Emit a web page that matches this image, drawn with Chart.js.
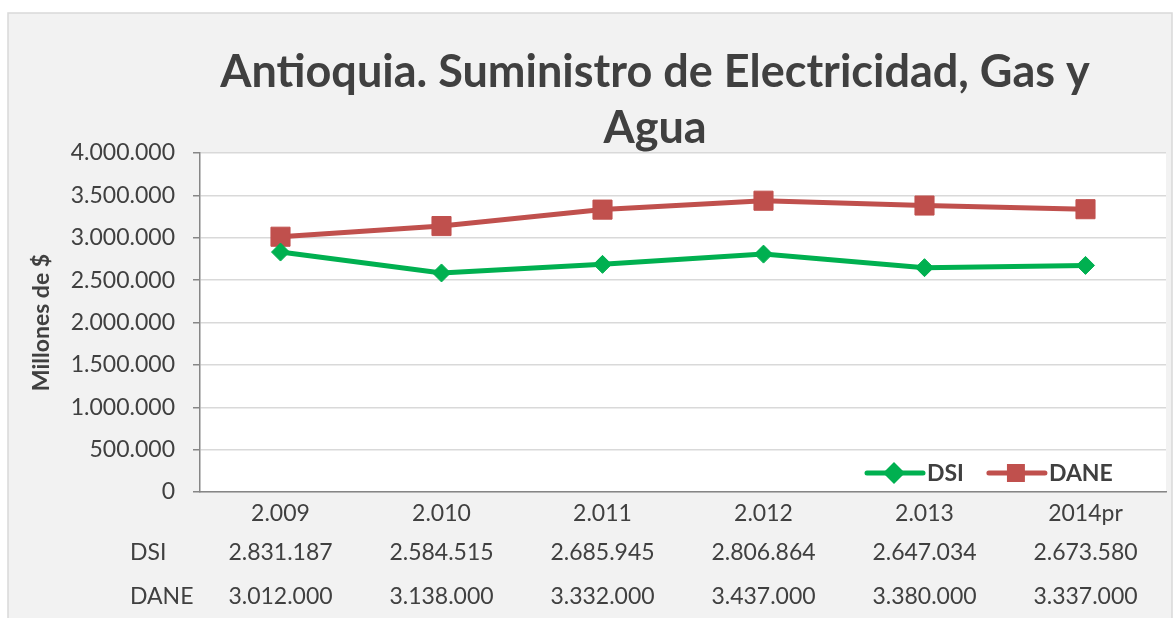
<!DOCTYPE html>
<html>
<head>
<meta charset="utf-8">
<script src="https://cdn.jsdelivr.net/npm/chart.js@4/dist/chart.umd.min.js"></script>
<style>
  body { margin: 0; background: #ffffff; }
  canvas { display: block; }
</style>
</head>
<body>
<canvas id="myChart" width="1174" height="618"></canvas>
<script>
var years = ['2.009', '2.010', '2.011', '2.012', '2.013', '2014pr'];
var dsi = [2831187, 2584515, 2685945, 2806864, 2647034, 2673580];
var dane = [3012000, 3138000, 3332000, 3437000, 3380000, 3337000];
var titleLines = ['Antioquia. Suministro de Electricidad, Gas y', 'Agua'];

var textColor = '#404040';
var fontFamily = 'Lato, "Open Sans", sans-serif';

// 2831187 -> 2.831.187
function fmt(v) {
    return String(v).replace(/\B(?=(\d{3})+(?!\d))/g, '.');
}

// grey frame and white plot area
var background = {
    id: 'background',
    beforeDraw: function(chart) {
        var ctx = chart.ctx, a = chart.chartArea;
        ctx.save();
        ctx.fillStyle = '#ffffff';
        ctx.fillRect(0, 0, chart.width, chart.height);
        ctx.fillStyle = '#f2f2f2';
        ctx.fillRect(8, 13, chart.width - 10, chart.height);
        ctx.strokeStyle = '#d9d9d9';
        ctx.lineWidth = 1.5;
        ctx.strokeRect(8, 13, chart.width - 10, chart.height + 5);
        ctx.fillStyle = '#ffffff';
        ctx.fillRect(a.left, a.top, a.right - a.left, a.bottom - a.top);
        ctx.restore();
    }
};

// title, placed like the Excel one (not centred on the canvas)
var chartTitle = {
    id: 'chartTitle',
    afterDraw: function(chart) {
        var ctx = chart.ctx;
        ctx.save();
        ctx.font = 'bold 45px ' + fontFamily;
        ctx.fillStyle = textColor;
        ctx.textAlign = 'center';
        ctx.textBaseline = 'middle';
        titleLines.forEach(function(line, i) {
            ctx.fillText(line, 655, 72 + i * 56);
        });
        ctx.restore();
    }
};

// legend inside the plot, bottom right
var insideLegend = {
    id: 'insideLegend',
    afterDatasetsDraw: function(chart) {
        var ctx = chart.ctx, a = chart.chartArea;
        var y = a.bottom - 19;
        var x = a.left + 667;
        ctx.save();
        ctx.font = 'bold 23px ' + fontFamily;
        ctx.textBaseline = 'middle';
        ctx.textAlign = 'left';
        var sizes = [{style: 'rectRot', r: 11}, {style: 'rect', r: 12.7}];
        chart.data.datasets.forEach(function(ds, i) {
            ctx.strokeStyle = ds.borderColor;
            ctx.lineWidth = 5;
            ctx.lineCap = 'round';
            ctx.beginPath();
            ctx.moveTo(x, y);
            ctx.lineTo(x + 56, y);
            ctx.stroke();
            ctx.fillStyle = ds.borderColor;
            Chart.helpers.drawPoint(ctx, {pointStyle: sizes[i].style, radius: sizes[i].r, rotation: 0, borderWidth: 0}, x + 27, y);
            ctx.fillStyle = textColor;
            ctx.fillText(ds.label, x + 60, y + 1);
            x += 60 + ctx.measureText(ds.label).width + 25;
        });
        ctx.restore();
    }
};

// data table under the category axis
var dataTable = {
    id: 'dataTable',
    afterDraw: function(chart) {
        var ctx = chart.ctx, xs = chart.scales.x;
        var rows = [{label: 'DSI', values: dsi, y: 553}, {label: 'DANE', values: dane, y: 597}];
        ctx.save();
        ctx.font = '23px ' + fontFamily;
        ctx.fillStyle = textColor;
        ctx.textBaseline = 'middle';
        rows.forEach(function(row) {
            ctx.textAlign = 'left';
            ctx.fillText(row.label, 130, row.y);
            ctx.textAlign = 'center';
            row.values.forEach(function(v, i) {
                ctx.fillText(fmt(v), xs.getPixelForValue(i), row.y);
            });
        });
        ctx.restore();
    }
};

Chart.defaults.font.family = fontFamily;
Chart.defaults.color = textColor;

var ctx = document.getElementById('myChart').getContext('2d');

var chartConfig = {
    type: 'line',
    data: {
        labels: years,
        datasets: [{
            label: 'DSI',
            data: dsi,
            borderColor: '#00b050',
            backgroundColor: '#00b050',
            borderWidth: 5,
            pointStyle: 'rectRot',
            pointRadius: 9,
            pointBorderWidth: 1,
            pointBackgroundColor: '#00b050',
            pointBorderColor: '#00b050',
            tension: 0,
            fill: false
        }, {
            label: 'DANE',
            data: dane,
            borderColor: '#c0504d',
            backgroundColor: '#c0504d',
            borderWidth: 5,
            pointStyle: 'rect',
            pointRadius: 13.5,
            pointBorderWidth: 1,
            pointBackgroundColor: '#c0504d',
            pointBorderColor: '#c0504d',
            tension: 0,
            fill: false
        }]
    },
    options: {
        responsive: false,
        animation: false,
        layout: {
            autoPadding: false,
            padding: {left: 8, right: 8, top: 153, bottom: 0}
        },
        plugins: {
            legend: {display: false},
            tooltip: {enabled: false},
            title: {display: false}
        },
        scales: {
            x: {
                offset: true,
                grid: {display: false, drawTicks: false, offset: true},
                border: {display: true, color: '#868686', width: 1.5},
                ticks: {
                    font: {size: 23},
                    color: textColor,
                    padding: 8,
                    maxRotation: 0,
                    autoSkip: false
                },
                afterFit: function(scale) {
                    scale.height = 126;
                    scale.paddingLeft = 0;
                    scale.paddingRight = 0;
                }
            },
            y: {
                min: 0,
                max: 4000000,
                grid: {color: '#d9d9d9', lineWidth: 1.5, tickLength: 7, tickColor: '#868686'},
                border: {display: true, color: '#868686', width: 1.5},
                ticks: {
                    stepSize: 500000,
                    font: {size: 23},
                    color: textColor,
                    padding: 18,
                    callback: function(v) { return fmt(v); }
                },
                title: {
                    display: true,
                    text: 'Millones de $',
                    color: textColor,
                    font: {size: 23, weight: 'bold'},
                    padding: {top: 20, bottom: 0}
                },
                afterFit: function(scale) { scale.width = 192; }
            }
        }
    },
    plugins: [background, chartTitle, insideLegend, dataTable]
};

var chart = new Chart(ctx, chartConfig);
</script>
</body>
</html>
